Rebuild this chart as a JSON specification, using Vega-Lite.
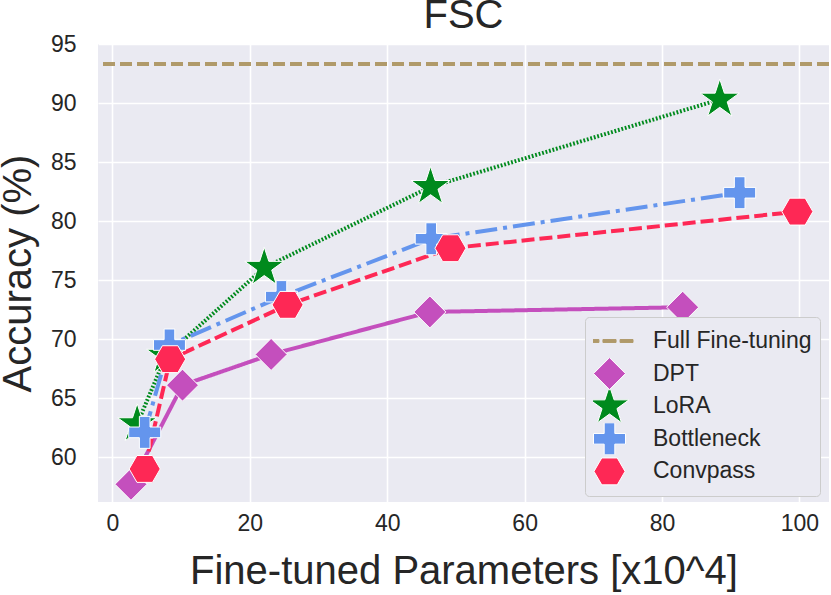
{
  "$schema": "https://vega.github.io/schema/vega-lite/v6.json",
  "width": 731,
  "height": 458,
  "autosize": {"type": "none"},
  "padding": {"left": 98, "top": 44, "right": 2, "bottom": 93},
  "background": "white",
  "title": {"text": "FSC", "fontSize": 40, "font": "Liberation Sans", "fontWeight": "normal", "color": "#262626", "offset": -3},
  "data": {
    "values": [
      {"method": "Full Fine-tuning", "params": null, "acc": 93.3},
      {"method": "DPT", "params": 2.7, "acc": 57.7},
      {"method": "DPT", "params": 10.2, "acc": 66.1},
      {"method": "DPT", "params": 23.1, "acc": 68.7},
      {"method": "DPT", "params": 46.2, "acc": 72.3},
      {"method": "DPT", "params": 83.0, "acc": 72.7},
      {"method": "LoRA", "params": 3.6, "acc": 62.8},
      {"method": "LoRA", "params": 7.8, "acc": 68.6},
      {"method": "LoRA", "params": 22.1, "acc": 76.05},
      {"method": "LoRA", "params": 46.3, "acc": 82.9},
      {"method": "LoRA", "params": 88.4, "acc": 90.3},
      {"method": "Bottleneck", "params": 4.7, "acc": 62.1},
      {"method": "Bottleneck", "params": 8.3, "acc": 69.5},
      {"method": "Bottleneck", "params": 24.6, "acc": 73.6},
      {"method": "Bottleneck", "params": 46.4, "acc": 78.5},
      {"method": "Bottleneck", "params": 91.3, "acc": 82.4},
      {"method": "Convpass", "params": 4.7, "acc": 59.0},
      {"method": "Convpass", "params": 8.4, "acc": 68.3},
      {"method": "Convpass", "params": 25.5, "acc": 72.9},
      {"method": "Convpass", "params": 49.2, "acc": 77.7},
      {"method": "Convpass", "params": 99.7, "acc": 80.8}
    ]
  },
  "layer": [
    {
      "transform": [{"filter": "datum.method === 'Full Fine-tuning'"}],
      "mark": {"type": "rule", "color": "#b09a6a", "strokeWidth": 4, "strokeDash": [12, 5]},
      "encoding": {
        "y": {"field": "acc", "type": "quantitative", "scale": {"domain": [56.2, 95.0], "nice": false, "zero": false}}
      }
    },
    {
      "transform": [{"filter": "datum.method !== 'Full Fine-tuning'"}],
      "mark": {"type": "line", "strokeWidth": 4},
      "encoding": {
        "x": {"field": "params", "type": "quantitative"},
        "y": {"field": "acc", "type": "quantitative"},
        "color": {
          "field": "method", "type": "nominal", "legend": null,
          "scale": {
            "domain": ["DPT", "LoRA", "Bottleneck", "Convpass"],
            "range": ["#c44fbd", "#008a1d", "#6495ed", "#fe2855"]
          }
        },
        "strokeDash": {
          "field": "method", "type": "nominal", "legend": null,
          "scale": {
            "domain": ["DPT", "LoRA", "Bottleneck", "Convpass"],
            "range": [[1, 0], [1.8, 1.8], [22, 6, 4, 6], [13, 5]]
          }
        }
      }
    },
    {
      "transform": [{"filter": "datum.method !== 'Full Fine-tuning'"}],
      "mark": {"type": "point", "filled": true, "opacity": 1, "size": 1024, "strokeWidth": 1},
      "encoding": {
        "x": {
          "field": "params", "type": "quantitative",
          "title": "Fine-tuned Parameters [x10^4]",
          "scale": {"domain": [-2.1, 104.3], "nice": false, "zero": false},
          "axis": {"values": [0, 20, 40, 60, 80, 100]}
        },
        "y": {
          "field": "acc", "type": "quantitative",
          "title": "Accuracy (%)",
          "axis": {"values": [60, 65, 70, 75, 80, 85, 90, 95]}
        },
        "fill": {
          "field": "method", "type": "nominal",
          "scale": {
            "domain": ["Full Fine-tuning", "DPT", "LoRA", "Bottleneck", "Convpass"],
            "range": ["#b09a6a", "#c44fbd", "#008a1d", "#6495ed", "#fe2855"]
          }
        },
        "stroke": {
          "field": "method", "type": "nominal",
          "scale": {
            "domain": ["Full Fine-tuning", "DPT", "LoRA", "Bottleneck", "Convpass"],
            "range": ["#b09a6a", "white", "white", "white", "white"]
          }
        },
        "shape": {
          "field": "method", "type": "nominal",
          "scale": {
            "domain": ["Full Fine-tuning", "DPT", "LoRA", "Bottleneck", "Convpass"],
            "range": [
              "M-1.47,-0.09L-0.66,-0.09L-0.66,0.09L-1.47,0.09ZM-0.41,-0.09L0.41,-0.09L0.41,0.09L-0.41,0.09ZM0.66,-0.09L1.47,-0.09L1.47,0.09L0.66,0.09Z",
              "M-1,0L0,-1L1,0L0,1Z",
              "M0,-1.28L0.288,-0.396L1.217,-0.396L0.465,0.151L0.753,1.036L0,0.489L-0.753,1.036L-0.465,0.151L-1.217,-0.396L-0.288,-0.396Z",
              "M-1,-0.333L-0.333,-0.333L-0.333,-1L0.333,-1L0.333,-0.333L1,-0.333L1,0.333L0.333,0.333L0.333,1L-0.333,1L-0.333,0.333L-1,0.333Z",
              "M0.97,0L0.485,0.84L-0.485,0.84L-0.97,0L-0.485,-0.84L0.485,-0.84Z"
            ]
          }
        }
      }
    }
  ],
  "config": {
    "view": {"fill": "#eaeaf2", "stroke": null},
    "axis": {
      "domain": false, "ticks": false, "grid": true, "gridColor": "white", "gridWidth": 1.6,
      "labelFont": "Liberation Sans", "labelFontSize": 23, "labelColor": "#262626",
      "titleFont": "Liberation Sans", "titleFontSize": 40, "titleColor": "#262626", "titleFontWeight": "normal"
    },
    "axisX": {"labelPadding": 10, "titlePadding": 16},
    "axisY": {"labelPadding": 22, "titlePadding": 12},
    "legend": {
      "orient": "none", "legendX": 487, "legendY": 273, "title": null,
      "fillColor": "#eaeaf2", "strokeColor": "#cccccc", "cornerRadius": 4, "padding": 8,
      "symbolSize": 1024, "symbolStrokeWidth": 1, "labelFontSize": 23, "labelFont": "Liberation Sans",
      "labelColor": "#262626", "labelOffset": 27, "rowPadding": 0.6, "clipHeight": 32
    }
  }
}
